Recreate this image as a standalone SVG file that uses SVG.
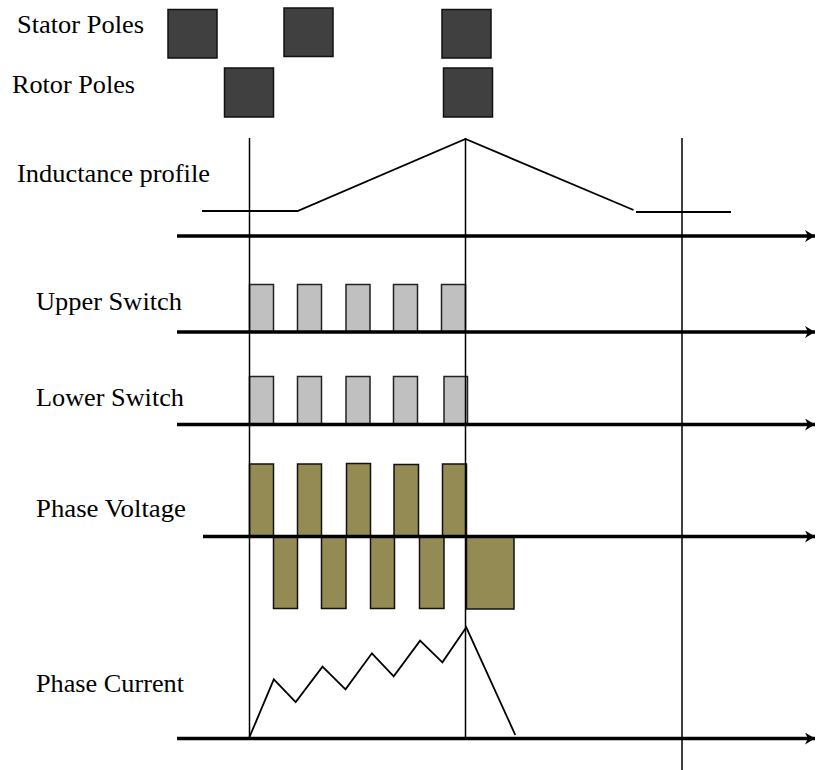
<svg xmlns="http://www.w3.org/2000/svg" width="816" height="770" viewBox="0 0 816 770">
<style>
.lbl{font-family:'Liberation Serif','Times New Roman',Times,'DejaVu Serif',serif;font-size:26px;fill:#000}
.pole{fill:#404040;stroke:#111;stroke-width:1.5}
.sw{fill:#c0c0c0;stroke:#222;stroke-width:1.5}
.pv{fill:#948a54;stroke:#111;stroke-width:1.5}
.axis{stroke:#000;stroke-width:3.5;fill:none}
.vl{stroke:#000;stroke-width:1.5;fill:none}
.wave{stroke:#000;stroke-width:1.8;fill:none;stroke-linejoin:miter}
</style>
<defs>
<marker id="arr" markerUnits="userSpaceOnUse" markerWidth="12" markerHeight="12" refX="10" refY="6" orient="auto">
<path d="M0,0 L10,6 L0,12 L3,6 z" fill="#000"/>
</marker>
</defs>
<rect width="816" height="770" fill="#fff"/>

<g id="labels">
<text class="lbl" x="17" y="33" textLength="127" lengthAdjust="spacingAndGlyphs">Stator Poles</text>
<text class="lbl" x="12" y="93" textLength="123" lengthAdjust="spacingAndGlyphs">Rotor Poles</text>
<text class="lbl" x="17" y="182" textLength="193" lengthAdjust="spacingAndGlyphs">Inductance profile</text>
<text class="lbl" x="36" y="310" textLength="146" lengthAdjust="spacingAndGlyphs">Upper Switch</text>
<text class="lbl" x="36" y="406" textLength="148" lengthAdjust="spacingAndGlyphs">Lower Switch</text>
<text class="lbl" x="36" y="517" textLength="150" lengthAdjust="spacingAndGlyphs">Phase Voltage</text>
<text class="lbl" x="36" y="692" textLength="148" lengthAdjust="spacingAndGlyphs">Phase Current</text>
</g>

<g id="stator-poles">
<rect class="pole" x="168" y="9.5" width="49" height="48.5"/>
<rect class="pole" x="284" y="8" width="49" height="48.5"/>
<rect class="pole" x="442" y="9.5" width="49" height="48.5"/>
</g>
<g id="rotor-poles">
<rect class="pole" x="224.5" y="68" width="49" height="49"/>
<rect class="pole" x="443.5" y="68" width="49" height="49"/>
</g>

<g id="upper-switch">
<rect class="sw" x="249.5" y="284.5" width="24" height="47.5"/>
<rect class="sw" x="297.5" y="284.5" width="24" height="47.5"/>
<rect class="sw" x="346" y="284.5" width="24" height="47.5"/>
<rect class="sw" x="393.5" y="284.5" width="24" height="47.5"/>
<rect class="sw" x="441.5" y="284.5" width="24" height="47.5"/>
</g>
<g id="lower-switch">
<rect class="sw" x="249.5" y="376.5" width="24" height="47.5"/>
<rect class="sw" x="297.5" y="376.5" width="24" height="47.5"/>
<rect class="sw" x="346" y="376.5" width="24" height="47.5"/>
<rect class="sw" x="393.5" y="376.5" width="24" height="47.5"/>
<rect class="sw" x="444" y="376.5" width="23.5" height="47.5"/>
</g>
<g id="phase-voltage">
<rect class="pv" x="249.5" y="464" width="24" height="72"/>
<rect class="pv" x="297.5" y="464" width="24" height="72"/>
<rect class="pv" x="346.5" y="463.5" width="24" height="72.5"/>
<rect class="pv" x="394" y="464.5" width="24.5" height="71.5"/>
<rect class="pv" x="442.5" y="464" width="24" height="72"/>
<rect class="pv" x="273.5" y="536.5" width="24" height="72"/>
<rect class="pv" x="321.5" y="536.5" width="24.5" height="72"/>
<rect class="pv" x="370.5" y="536.5" width="24" height="72"/>
<rect class="pv" x="419.5" y="536.5" width="24.5" height="72"/>
<rect class="pv" x="466.5" y="536.5" width="47.5" height="72.5"/>
</g>

<g id="connectors">
<line class="vl" x1="249.5" y1="138" x2="249.5" y2="738"/>
<line class="vl" x1="465.5" y1="138" x2="465.5" y2="738"/>
<line class="vl" x1="682" y1="138" x2="682" y2="770"/>
<polyline class="wave" points="202,211 297.5,211 465.5,139 633.5,210"/>
<line class="wave" x1="636" y1="212" x2="731" y2="212"/>
<polyline class="wave" points="249.5,737 273.8,679.3 295.7,702 322.5,666.7 345.5,689.3 371.9,653.3 393.7,676.3 420.1,640.7 442.4,662.3 466.3,627.3 515.3,735"/>
<line class="axis" x1="177" y1="236" x2="815" y2="236" marker-end="url(#arr)"/>
<line class="axis" x1="177" y1="332" x2="815" y2="332" marker-end="url(#arr)"/>
<line class="axis" x1="177" y1="424.5" x2="815" y2="424.5" marker-end="url(#arr)"/>
<line class="axis" x1="203" y1="536.5" x2="815" y2="536.5" marker-end="url(#arr)"/>
<line class="axis" x1="177" y1="738.5" x2="815" y2="738.5" marker-end="url(#arr)"/>
</g>
</svg>
